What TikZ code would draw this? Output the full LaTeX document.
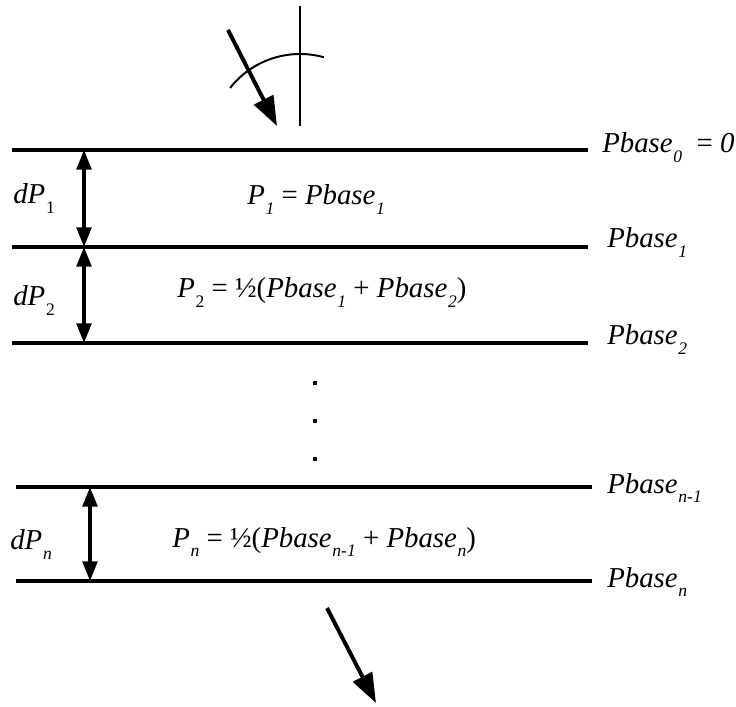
\documentclass[tikz,border=0pt]{standalone}
\usepackage{fontspec}
\setmainfont{Liberation Serif}
\usetikzlibrary{arrows.meta}
\newcommand{\lsub}[1]{\kern0.5pt\raisebox{-7pt}{\fontsize{12.5}{12.5}\selectfont #1}}
\newcommand{\pbase}[1]{\textit{Pbase}\lsub{\textit{#1}}}

\begin{document}
\begin{tikzpicture}[x=0.025cm,y=-0.025cm,
    level/.style={line width=2.8pt},
    gap/.style={line width=2.4pt,{Triangle[length=14pt,width=10.5pt]}-{Triangle[length=14pt,width=10.5pt]}},
    flow/.style={line width=2.8pt,-{Triangle[length=21pt,width=15pt]}},
    guide/.style={line width=1.4pt},
    lbl/.style={anchor=base west,inner sep=0pt,font=\fontsize{20.5}{24}\selectfont}]
  \useasboundingbox (0,0) rectangle (736,707);
  % pressure levels
  \foreach \nm/\xa/\xb/\y in {l0/12/588/150, l1/12/588/247, l2/12/588/343, lm/16/592/487, ln/16/592/581}{
    \coordinate (\nm w) at (\xa,\y);
    \coordinate (\nm e) at (\xb,\y);
    \draw[level] (\nm w) -- (\nm e);
  }
  \node[lbl] (b0) at (602,153) {\pbase{0} \ = \textit{0}};
  \node[lbl] (b1) at (607,248) {\pbase{1}};
  \node[lbl] (b2) at (607,345) {\pbase{2}};
  \node[lbl] (bm) at (607,493) {\pbase{n-1}};
  \node[lbl] (bn) at (607,587) {\pbase{n}};
  % layer thickness
  \coordinate (g1t) at (84,150);  \coordinate (g1b) at (84,247);
  \coordinate (g2t) at (84,247);  \coordinate (g2b) at (84,343);
  \coordinate (gnt) at (90,487);  \coordinate (gnb) at (90,581);
  \draw[gap] (g1t) -- (g1b);
  \draw[gap] (g2t) -- (g2b);
  \draw[gap] (gnt) -- (gnb);
  \node[lbl] (d1) at (13,204) {\textit{dP}\lsub{1}};
  \node[lbl] (d2) at (13,306) {\textit{dP}\lsub{2}};
  \node[lbl] (dn) at (10,550) {\textit{dP}\lsub{\textit{n}}};
  % layer pressures
  \node[lbl] (e1) at (247,205) {\textit{P}\lsub{\textit{1}} = \pbase{1}};
  \node[lbl] (e2) at (177,298) {\textit{P}\lsub{2} = ½(\pbase{1} + \pbase{2})};
  \node[lbl] (en) at (172,547) {\textit{P}\lsub{\textit{n}} = ½(\pbase{n-1} + \pbase{n})};
  \foreach \y in {383,421,459}
    \fill (313,\y-2) rectangle (317,\y+2);
  % incoming and outgoing ray
  \coordinate (vt) at (300,6);  \coordinate (vb) at (300,126);
  \draw[guide] (vt) -- (vb);
  \draw[guide] (300,143) ++(-141.8:89) arc[start angle=-141.8,end angle=-74.4,radius=89];
  \coordinate (inS) at (228,30);  \coordinate (inE) at (277,126);
  \draw[flow] (inS) -- (inE);
  \coordinate (outS) at (327,608);  \coordinate (outE) at (376,703);
  \draw[flow] (outS) -- (outE);
\end{tikzpicture}
\end{document}
